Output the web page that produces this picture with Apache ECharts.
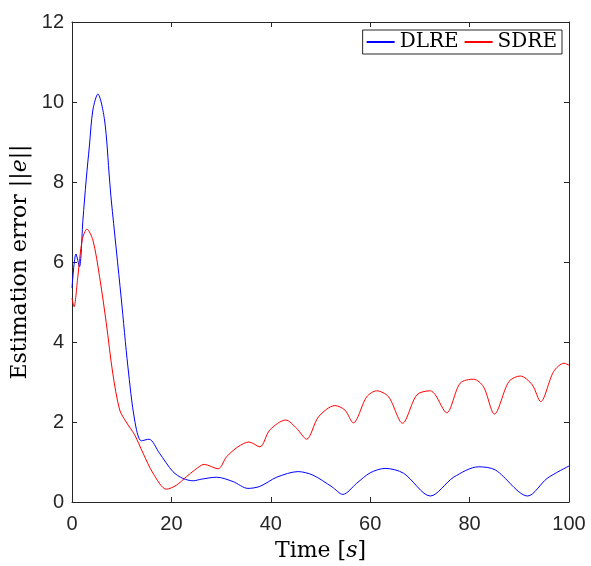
<!DOCTYPE html>
<html>
<head>
<meta charset="utf-8">
<script src="https://cdn.jsdelivr.net/npm/echarts@6/dist/echarts.min.js"></script>
<style>
html, body { margin: 0; padding: 0; background: #fff; }
#main { width: 591px; height: 566px; }
</style>
</head>
<body>
<div id="main"></div>
<script>
// DLRE curve (time, error norm)
var dlreT = [0, 0.8, 1.5, 2.2, 2.85, 3.5, 4.2, 5.2, 6.55, 7.56, 7.9, 9.9, 11.25, 12.6, 13.95, 15.5, 17.6, 20.3, 22.3, 24.4, 26.0, 29.1, 32.4, 35.4, 37.8, 41.2, 45.5, 48.5, 52.3, 54.5, 57.3, 60.0, 63.0, 66.7, 72.1, 76.8, 81.8, 85.2, 91.7, 95.6, 100];
var dlreY = [5.35, 6.2, 5.88, 7.05, 8.05, 8.9, 9.8, 10.2, 9.55, 8.05, 7.55, 5.1, 3.38, 2.05, 1.53, 1.57, 1.22, 0.76, 0.59, 0.53, 0.57, 0.62, 0.51, 0.34, 0.39, 0.62, 0.76, 0.67, 0.38, 0.19, 0.47, 0.73, 0.84, 0.72, 0.15, 0.62, 0.88, 0.8, 0.15, 0.59, 0.9];

// SDRE curve
var sdreT = [0, 0.4, 1.17, 2.05, 3.0, 4.2, 5.55, 6.9, 8.2, 9.6, 10.9, 12.6, 14.3, 16.3, 19.0, 21.0, 23.0, 24.7, 26.6, 29.4, 31.1, 33.4, 35.6, 37.8, 39.8, 43.0, 45.2, 47.2, 49.6, 52.9, 54.9, 56.6, 59.3, 61.3, 63.7, 66.5, 69.4, 72.1, 73.1, 75.4, 78.1, 80.8, 82.8, 85.0, 87.9, 90.2, 92.6, 94.3, 96.9, 99.0, 100];
var sdreY = [5.1, 4.88, 5.63, 6.55, 6.82, 6.55, 5.63, 4.47, 3.22, 2.3, 2.0, 1.68, 1.22, 0.72, 0.32, 0.42, 0.63, 0.8, 0.94, 0.83, 1.13, 1.38, 1.5, 1.38, 1.8, 2.05, 1.84, 1.57, 2.13, 2.41, 2.3, 1.98, 2.63, 2.78, 2.63, 1.97, 2.68, 2.78, 2.68, 2.23, 2.97, 3.07, 2.88, 2.2, 3.01, 3.15, 2.93, 2.51, 3.26, 3.47, 3.42];

var xTicks = [0, 20, 40, 60, 80, 100];
var yTicks = [0, 2, 4, 6, 8, 10, 12];

function pairs(t, y) {
    return t.map(function (v, i) { return [v, y[i]]; });
}

var axisCol = '#262626';
var serif = 'DejaVu Serif';
var chart = echarts.init(document.getElementById('main'));

var plainAxis = {
    type: 'value',
    axisLine: { show: true, onZero: false, lineStyle: { color: axisCol, width: 1 } },
    axisTick: { show: true, inside: true, length: 5, lineStyle: { color: axisCol } },
    splitLine: { show: false }
};

var nameRich = {
    n: { fontFamily: serif, fontSize: 22, color: '#000' },
    i: { fontFamily: serif, fontStyle: 'italic', fontSize: 22, color: '#000' }
};

var option = {
    backgroundColor: '#ffffff',
    animation: false,
    grid: { left: 72, right: 22, top: 22, bottom: 64, outerBoundsMode: 'none' },
    legend: {
        right: 29,
        top: 30,
        itemWidth: 28,
        itemHeight: 2,
        itemGap: 5,
        padding: [2, 5, 2, 3],
        borderColor: axisCol,
        borderWidth: 1,
        backgroundColor: '#fff',
        textStyle: { fontFamily: serif, fontSize: 20, color: '#000' },
        data: ['DLRE', 'SDRE']
    },
    xAxis: [
        Object.assign({}, plainAxis, {
            position: 'bottom',
            min: xTicks[0], max: xTicks[xTicks.length - 1], interval: 20,
            axisLabel: { color: axisCol, fontSize: 20, fontFamily: 'Liberation Sans', margin: 12 },
            name: '{n|Time [}{i|s}{n|]}',
            nameLocation: 'middle',
            nameGap: 38,
            nameTextStyle: { rich: nameRich }
        }),
        Object.assign({}, plainAxis, {
            position: 'top',
            min: 0, max: 100, interval: 20,
            axisLabel: { show: false }
        })
    ],
    yAxis: [
        Object.assign({}, plainAxis, {
            position: 'left',
            min: yTicks[0], max: yTicks[yTicks.length - 1], interval: 2,
            axisLabel: { color: axisCol, fontSize: 20, fontFamily: 'Liberation Sans', margin: 8 },
            name: '{n|Estimation error ||}{i|e}{n|||}',
            nameLocation: 'middle',
            nameGap: 35,
            nameRotate: 90,
            nameTextStyle: { rich: nameRich }
        }),
        Object.assign({}, plainAxis, {
            position: 'right',
            min: 0, max: 12, interval: 2,
            axisLabel: { show: false }
        })
    ],
    series: [
        {
            name: 'DLRE',
            type: 'line',
            data: pairs(dlreT, dlreY),
            symbol: 'none',
            smooth: 0.3,
            lineStyle: { color: '#0000ff', width: 1 },
            itemStyle: { color: '#0000ff' }
        },
        {
            name: 'SDRE',
            type: 'line',
            data: pairs(sdreT, sdreY),
            symbol: 'none',
            smooth: 0.3,
            lineStyle: { color: '#ff0000', width: 1 },
            itemStyle: { color: '#ff0000' }
        }
    ]
};

chart.setOption(option);
</script>
</body>
</html>
